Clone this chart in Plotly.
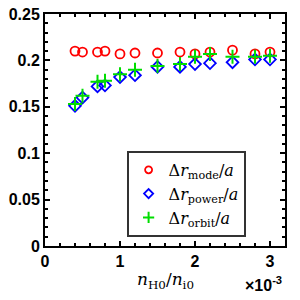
import plotly.graph_objects as go

n_ratio = [0.4, 0.5, 0.7, 0.8, 1.0, 1.2, 1.5, 1.8, 2.0, 2.2, 2.5, 2.8, 3.0]  # x 1e-3
dr_mode = [0.210, 0.209, 0.209, 0.210, 0.207, 0.208, 0.208, 0.209, 0.207, 0.209, 0.211, 0.207, 0.209]
dr_power = [0.151, 0.160, 0.172, 0.173, 0.182, 0.184, 0.193, 0.193, 0.196, 0.197, 0.198, 0.201, 0.201]
dr_orbit = [0.153, 0.162, 0.177, 0.178, 0.185, 0.190, 0.194, 0.196, 0.204, 0.207, 0.204, 0.204, 0.205]
x_ticks = [0, 1, 2, 3]
y_ticks = [0, 0.05, 0.1, 0.15, 0.2, 0.25]
series_names = ["Δ<i>r</i><sub>mode</sub>/<i>a</i>",
                "Δ<i>r</i><sub>power</sub>/<i>a</i>",
                "Δ<i>r</i><sub>orbit</sub>/<i>a</i>"]

x = [v * 1e-3 for v in n_ratio]
serif = "DejaVu Serif, Liberation Serif, serif"
sans = "Liberation Sans, Arial, sans-serif"

styles = [dict(symbol="circle-open", color="#ff0000", lw=1.8, size=9, lsize=7),
          dict(symbol="diamond-open", color="#0000ff", lw=1.8, size=9, lsize=7),
          dict(symbol="cross-thin-open", color="#00dd00", lw=2, size=10, lsize=8)]

fig = go.Figure()
for ys, nm, st in zip([dr_mode, dr_power, dr_orbit], series_names, styles):
    fig.add_trace(go.Scatter(x=x, y=ys, mode="markers", showlegend=False,
                             marker=dict(symbol=st["symbol"], color=st["color"], size=st["size"],
                                         line=dict(width=st["lw"], color=st["color"]))))
for nm, st in zip(series_names, styles):
    fig.add_trace(go.Scatter(x=[None], y=[None], mode="markers", name=nm,
                             marker=dict(symbol=st["symbol"], color=st["color"], size=st["lsize"],
                                         line=dict(width=st["lw"], color=st["color"]))))

axis_common = dict(showline=True, linecolor="black", linewidth=2, mirror="allticks",
                   ticks="inside", ticklen=5, tickwidth=1.5, tickcolor="black",
                   showgrid=False, zeroline=False, ticklabeloverflow="allow",
                   tickfont=dict(family=sans, size=16, color="black", weight="bold"))

fig.update_xaxes(range=[0, 3.2e-3], tickvals=[v * 1e-3 for v in x_ticks],
                 ticktext=[str(v) for v in x_ticks],
                 minor=dict(ticks="inside", ticklen=3, dtick=0.2e-3, tick0=0, tickcolor="black", tickwidth=1.5),
                 **axis_common)
fig.update_yaxes(range=[0, 0.25], tickvals=y_ticks,
                 ticktext=["0", "0.05", "0.1", "0.15", "0.2", "0.25"],
                 minor=dict(ticks="inside", ticklen=3, dtick=0.01, tick0=0, tickcolor="black", tickwidth=1.5),
                 **axis_common)

fig.add_annotation(text="<i>n</i><sub>H0</sub>/<i>n</i><sub>i0</sub>", xref="paper", yref="paper",
                   x=0.5, y=-0.15, xanchor="center", yanchor="middle", showarrow=False,
                   font=dict(family=serif, size=17, color="black"))
fig.add_annotation(text="×10<sup>-3</sup>", xref="paper", yref="paper",
                   x=0.995, y=-0.165, xanchor="right", yanchor="middle", showarrow=False,
                   font=dict(family=sans, size=16, color="black", weight="bold"))

fig.update_layout(width=300, height=300,
                  margin=dict(l=45, r=15, t=6, b=54),
                  paper_bgcolor="white", plot_bgcolor="white",
                  legend=dict(x=0.34, y=0.41, xanchor="left", yanchor="top",
                              bordercolor="#333333", borderwidth=2, bgcolor="white",
                              font=dict(family=serif, size=16, color="black"),
                              tracegroupgap=0, itemwidth=30),
                  showlegend=True)

fig.write_html("out.html", config={"displayModeBar": False},
               post_script="document.body.style.margin='0';document.body.style.overflow='hidden';")
